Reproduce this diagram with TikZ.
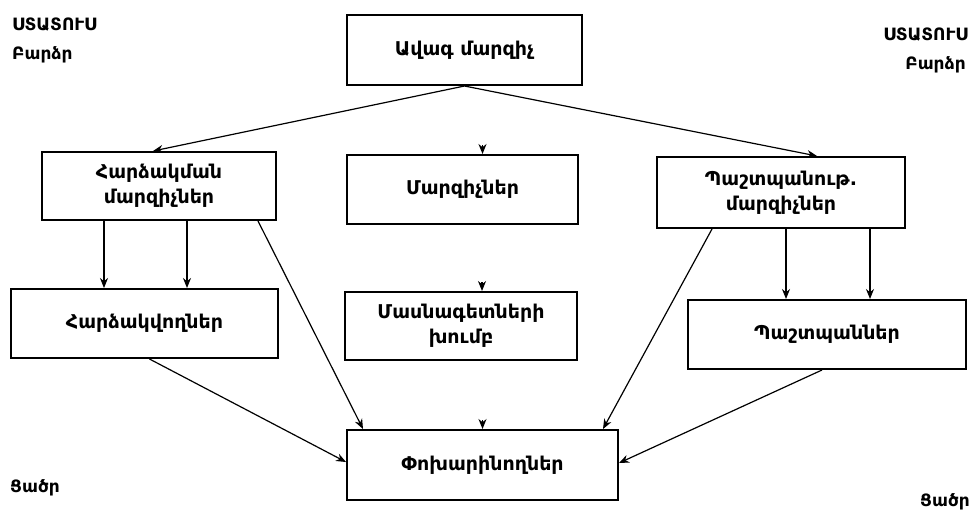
\documentclass[tikz,border=0pt]{standalone}
\usepackage{fontspec}
\setmainfont{DejaVu Sans}[BoldFont={DejaVu Sans Bold}]
\usetikzlibrary{arrows.meta,calc}
\begin{document}
\begin{tikzpicture}[x=1pt,y=-1pt,
  box/.style={draw,line width=2pt,rectangle,inner sep=0pt,align=center,font=\bfseries\fontsize{19}{25}\selectfont},
  arr/.style={line width=1.2pt,-{Stealth[length=10pt,width=8pt]}},
  lbl/.style={inner sep=0pt,font=\bfseries\fontsize{17}{20}\selectfont}]
\useasboundingbox (0,0) rectangle (976,515);
\fill[white] (0,0) rectangle (976,515);
\node[box,minimum width=235pt,minimum height=70pt] (TOP) at (464.5,50) {Ավագ մարզիչ};
\node[box,minimum width=234pt,minimum height=68pt] (LC) at (159,186) {Հարձակման\\մարզիչներ};
\node[box,minimum width=231pt,minimum height=69pt] (MC) at (462.5,189.5) {Մարզիչներ};
\node[box,minimum width=248pt,minimum height=71pt] (RC) at (781,192.5) {Պաշտպանութ.\\մարզիչներ};
\node[box,minimum width=267pt,minimum height=69pt] (AT) at (144.5,323.5) {Հարձակվողներ};
\node[box,minimum width=232pt,minimum height=68pt] (SP) at (461,326) {Մասնագետների\\խումբ};
\node[box,minimum width=278pt,minimum height=69pt] (DF) at (827,334.5) {Պաշտպաններ};
\node[box,minimum width=271pt,minimum height=70pt] (SU) at (482.5,465) {Փոխարինողներ};
\node[lbl,anchor=west] (S1) at (12,25) {ՍՏԱՏՈՒՍ};
\node[lbl,anchor=west] (H1) at (12,55) {Բարձր};
\node[lbl,anchor=east] (S2) at (968,35) {ՍՏԱՏՈՒՍ};
\node[lbl,anchor=east] (H2) at (966,65) {Բարձր};
\node[lbl,anchor=west] (L1) at (10,488) {Ցածր};
\node[lbl,anchor=east] (L2) at (970,502) {Ցածր};
% arrows
\draw[arr] (TOP.south) -- ([xshift=-6pt]LC.north);
\draw[arr] (TOP.south) -- ([xshift=36pt]RC.north);
\draw[arr] ([xshift=20pt,yshift=9pt]MC.north) -- ([xshift=20pt]MC.north);
\draw[arr] ([xshift=21pt,yshift=9pt]SP.north) -- ([xshift=21pt]SP.north);
\draw[arr] ([yshift=9pt]SU.north) -- (SU.north);
\draw[arr] ([xshift=-55pt]LC.south) -- ([xshift=-55pt]LC.south |- AT.north);
\draw[arr] ([xshift=28pt]LC.south) -- ([xshift=28pt]LC.south |- AT.north);
\draw[arr] ([xshift=99pt]LC.south) -- ([xshift=-119.5pt]SU.north);
\draw[arr] ([xshift=5pt]AT.south) -- ([yshift=3pt]SU.west);
\draw[arr] ([xshift=-69pt]RC.south) -- ([xshift=120.5pt]SU.north);
\draw[arr] ([xshift=5pt]RC.south) -- ([xshift=5pt]RC.south |- DF.north);
\draw[arr] ([xshift=89pt]RC.south) -- ([xshift=89pt]RC.south |- DF.north);
\draw[arr] ([xshift=-5pt]DF.south) -- ([yshift=2pt]SU.east);
\end{tikzpicture}
\end{document}
